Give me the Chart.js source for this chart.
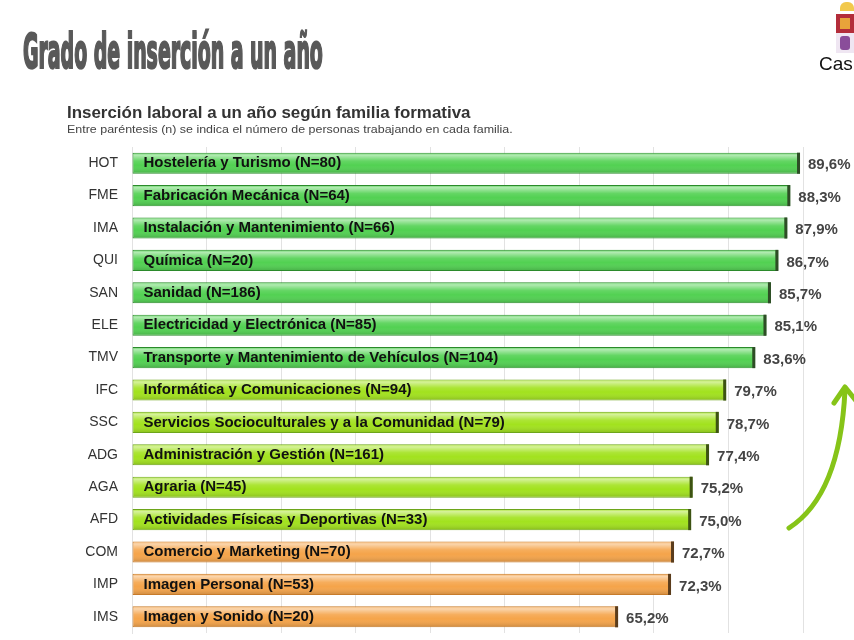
<!DOCTYPE html>
<html>
<head>
<meta charset="utf-8">
<script src="https://cdn.jsdelivr.net/npm/chart.js@4/dist/chart.umd.min.js"></script>
<style>
  body { margin: 0; background: #fff; width: 854px; height: 640px; overflow: hidden; position: relative; font-family: "Liberation Sans", Arial, sans-serif; }
  #chart { position: absolute; left: 0; top: 0; }
  .fit { position: absolute; white-space: nowrap; transform-origin: 0 0; }
  #title { left: 23px; top: 27px; font-family: "Liberation Sans Narrow", "DejaVu Sans Condensed", sans-serif; font-weight: bold; font-size: 48px; line-height: 48px; color: #595959; -webkit-text-stroke: 2.2px #595959; text-shadow: 1px 1px 1px #bbb; }
  #sub { left: 67px; top: 104px; font-weight: bold; font-size: 16px; line-height: 18px; color: #333; }
  #note { left: 67px; top: 123px; font-size: 11px; line-height: 13px; color: #444; }
  .logo { position: absolute; }
</style>
</head>
<body>
<canvas id="chart" width="854" height="640"></canvas>
<div id="title" class="fit" data-w="300">Grado de inserción a un año</div>
<div id="sub" class="fit" data-w="403">Inserción laboral a un año según familia formativa</div>
<div id="note" class="fit" data-w="446">Entre paréntesis (n) se indica el número de personas trabajando en cada familia.</div>
<div class="logo" style="left:840px;top:2px;width:14px;height:9px;background:#f2c94c;border-radius:6px 6px 0 0;"></div>
<div class="logo" style="left:836px;top:14px;width:18px;height:19px;background:#b32d3a;"></div>
<div class="logo" style="left:840px;top:18px;width:10px;height:11px;background:#e8a33a;"></div>
<div class="logo" style="left:836px;top:33px;width:18px;height:20px;background:#efe6f2;"></div>
<div class="logo" style="left:840px;top:36px;width:10px;height:14px;background:#8a4d9a;border-radius:3px;"></div>
<div class="logo" style="left:819px;top:53px;font-size:19px;line-height:22px;color:#111;">Cas</div>
<script>
const codes = ['HOT', 'FME', 'IMA', 'QUI', 'SAN', 'ELE', 'TMV', 'IFC', 'SSC', 'ADG', 'AGA', 'AFD', 'COM', 'IMP', 'IMS'];
const families = ['Hostelería y Turismo', 'Fabricación Mecánica', 'Instalación y Mantenimiento', 'Química', 'Sanidad',
  'Electricidad y Electrónica', 'Transporte y Mantenimiento de Vehículos', 'Informática y Comunicaciones',
  'Servicios Socioculturales y a la Comunidad', 'Administración y Gestión', 'Agraria',
  'Actividades Físicas y Deportivas', 'Comercio y Marketing', 'Imagen Personal', 'Imagen y Sonido'];
const nWorking = [80, 64, 66, 20, 186, 85, 104, 94, 79, 161, 45, 33, 70, 53, 20];
const insertion = [89.6, 88.3, 87.9, 86.7, 85.7, 85.1, 83.6, 79.7, 78.7, 77.4, 75.2, 75.0, 72.7, 72.3, 65.2];
const groups = ['high', 'high', 'high', 'high', 'high', 'high', 'high', 'mid', 'mid', 'mid', 'mid', 'mid', 'low', 'low', 'low'];

const palette = {
  high: { fill: '#52d152', edge: '#2b8a2b', end: '#2e4d26' },
  mid: { fill: '#a2e21e', edge: '#6da51a', end: '#3d5213' },
  low: { fill: '#f5a44a', edge: '#c77b2a', end: '#5a3c1c' }
};

document.querySelectorAll('.fit').forEach(el => {
  const w = +el.dataset.w;
  el.style.transform = 'scaleX(' + (w / el.offsetWidth) + ')';
});

const barDecor = {
  id: 'barDecor',
  afterDatasetsDraw(chart) {
    const ctx = chart.ctx;
    const meta = chart.getDatasetMeta(0);
    ctx.save();
    meta.data.forEach((bar, i) => {
      const h = bar.height;
      const top = bar.y - h / 2;
      const left = bar.base + 1;
      const w = bar.x - bar.base - 4;
      const g = ctx.createLinearGradient(0, top, 0, top + h);
      g.addColorStop(0, 'rgba(255,255,255,0.15)');
      g.addColorStop(0.12, 'rgba(255,255,255,0.55)');
      g.addColorStop(0.4, 'rgba(255,255,255,0.1)');
      g.addColorStop(0.6, 'rgba(255,255,255,0)');
      g.addColorStop(1, 'rgba(0,0,0,0.18)');
      ctx.fillStyle = g;
      ctx.fillRect(left, top + 1, w, h - 2);

      // dark right end of the bar
      ctx.fillStyle = palette[groups[i]].end;
      ctx.fillRect(bar.x - 3, top, 3, h);

      ctx.fillStyle = '#111';
      ctx.font = 'bold 15px "Liberation Sans", Arial, sans-serif';
      ctx.textBaseline = 'middle';
      ctx.textAlign = 'left';
      ctx.fillText(families[i] + ' (N=' + nWorking[i] + ')', bar.base + 11, bar.y);

      ctx.fillStyle = '#444';
      ctx.font = 'bold 15px "Liberation Sans", Arial, sans-serif';
      ctx.fillText(insertion[i].toFixed(1).replace('.', ',') + '%', bar.x + 8, bar.y + 2);
    });
    ctx.restore();
  },
  afterDraw(chart) {
    // decorative upward arrow on the right
    const ctx = chart.ctx;
    ctx.save();
    ctx.strokeStyle = '#86c418';
    ctx.lineWidth = 5;
    ctx.lineCap = 'round';
    ctx.lineJoin = 'round';
    ctx.beginPath();
    ctx.moveTo(789, 528);
    ctx.quadraticCurveTo(840, 495, 845, 390);
    ctx.stroke();
    ctx.beginPath();
    ctx.moveTo(834, 403);
    ctx.lineTo(845, 387);
    ctx.lineTo(857, 402);
    ctx.stroke();
    ctx.restore();
  }
};

new Chart(document.getElementById('chart'), {
  type: 'bar',
  data: {
    labels: codes,
    datasets: [{
      data: insertion,
      backgroundColor: groups.map(g => palette[g].fill),
      borderColor: groups.map(g => palette[g].edge),
      borderWidth: 1,
      borderSkipped: false,
      barPercentage: 0.65,
      categoryPercentage: 1
    }]
  },
  options: {
    indexAxis: 'y',
    responsive: false,
    animation: false,
    layout: { padding: { top: 147, bottom: 7, right: 51, left: 0 } },
    plugins: { legend: { display: false }, tooltip: { enabled: false } },
    scales: {
      x: {
        min: 0,
        max: 90,
        ticks: { display: false, stepSize: 10 },
        grid: { color: '#e2e2e2', drawTicks: false },
        border: { display: false },
        afterFit(scale) { scale.height = 0; }
      },
      y: {
        ticks: { color: '#333', padding: 14, font: { size: 14, family: '"Liberation Sans", Arial, sans-serif' } },
        grid: { display: false, drawTicks: false },
        border: { display: true, color: '#e2e2e2' },
        afterFit(scale) {
          scale.width = 132;
          scale.paddingTop = 0;
          scale.paddingBottom = 0;
        }
      }
    }
  },
  plugins: [barDecor]
});
</script>
</body>
</html>
